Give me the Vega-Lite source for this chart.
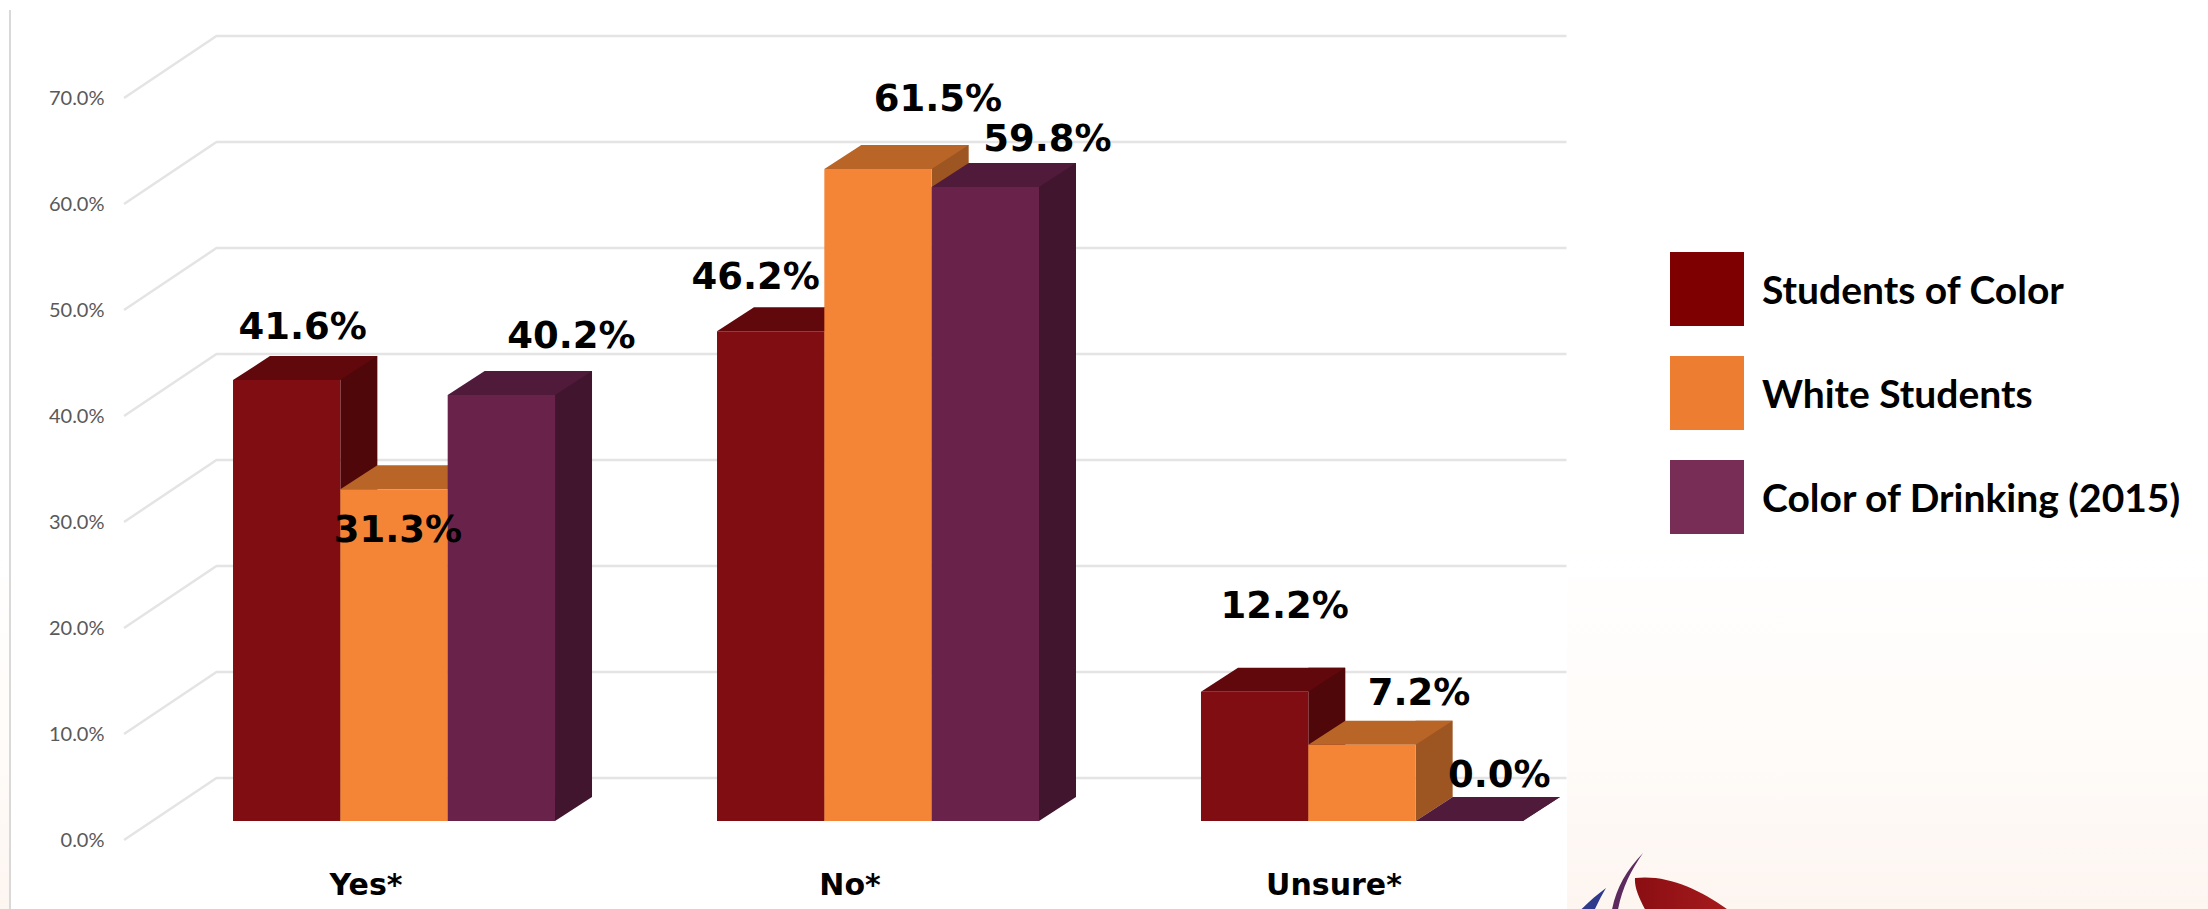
{
  "$schema": "https://vega.github.io/schema/vega-lite/v6.json",
  "width": 1349.5,
  "height": 742,
  "autosize": {"type": "none"},
  "padding": {"left": 124, "top": 98, "right": 734.5, "bottom": 69},
  "background": "#ffffff",
  "config": {"view": {"stroke": null}},
  "datasets": {
    "drink": [
      {"answer": "Yes*", "series": "Students of Color", "value": 0.416},
      {"answer": "Yes*", "series": "White Students", "value": 0.313},
      {"answer": "Yes*", "series": "Color of Drinking (2015)", "value": 0.402},
      {"answer": "No*", "series": "Students of Color", "value": 0.462},
      {"answer": "No*", "series": "White Students", "value": 0.615},
      {"answer": "No*", "series": "Color of Drinking (2015)", "value": 0.598},
      {"answer": "Unsure*", "series": "Students of Color", "value": 0.122},
      {"answer": "Unsure*", "series": "White Students", "value": 0.072},
      {"answer": "Unsure*", "series": "Color of Drinking (2015)", "value": 0.0}
    ],
    "ticks": [
      {"tick": 0}, {"tick": 0.1}, {"tick": 0.2}, {"tick": 0.3},
      {"tick": 0.4}, {"tick": 0.5}, {"tick": 0.6}, {"tick": 0.7}
    ]
  },
  "data": {"name": "drink"},
  "layer": [
    {
      "data": {"values": [{"part": "slide"}]},
      "encoding": {
        "x": {"datum": "Yes*", "type": "nominal", "scale": {"domain": ["Yes*", "No*", "Unsure*"], "range": [28, 1480], "paddingInner": 0.3347, "paddingOuter": 0.1674}, "axis": {"title": null, "zindex": 1, "domain": false, "ticks": false, "grid": false, "labelAngle": 0, "labelFont": "DejaVu Sans", "labelFontWeight": "bold", "labelFontSize": 30, "labelColor": "#000000", "labelOffset": -28, "labelPadding": 30}},
        "y": {"datum": 0, "type": "quantitative", "scale": {"domain": [0, 0.7], "nice": false}, "axis": {"title": null, "zindex": 1, "values": [0, 0.1, 0.2, 0.3, 0.4, 0.5, 0.6, 0.7], "format": ".1%", "domain": false, "ticks": false, "grid": false, "labelFont": "Lato", "labelFontSize": 20, "labelColor": "#595959", "labelPadding": 20}}
      },
      "layer": [
        {"mark": {"type": "point", "filled": true, "opacity": 1, "size": 4, "strokeWidth": 0, "shape": "M-394 -840H1814V69H-394Z", "fill": {"gradient": "linear", "x1": 0, "y1": 0, "x2": 0, "y2": 1, "stops": [{"offset": 0, "color": "#ffffff"}, {"offset": 0.6, "color": "#ffffff"}, {"offset": 0.84, "color": "#FFFBF8"}, {"offset": 1, "color": "#FDF5F0"}]}}},
        {"mark": {"type": "point", "filled": true, "opacity": 1, "size": 4, "strokeWidth": 0, "fill": "#ffffff", "shape": "M-384 -840H1173V69H-384Z"}},
        {"mark": {"type": "point", "filled": false, "opacity": 1, "size": 4, "stroke": "#D9D9D9", "strokeWidth": 2, "shape": "M-384 -830V69"}},
        {"mark": {"type": "point", "filled": true, "opacity": 1, "size": 4, "strokeWidth": 0, "shape": "M1241 38C1276 34 1311 52 1341 75L1254 75C1246 60 1240 48 1241 38Z", "fill": {"gradient": "linear", "x1": 0, "y1": 0, "x2": 1, "y2": 0, "stops": [{"offset": 0, "color": "#8A0E12"}, {"offset": 1, "color": "#A81C1E"}]}}},
        {"mark": {"type": "point", "filled": true, "opacity": 1, "size": 4, "strokeWidth": 0, "fill": "#5C2A5E", "shape": "M1249 13C1231 32 1221 50 1217 75L1223 75C1227 50 1236 32 1249 13Z"}},
        {"mark": {"type": "point", "filled": true, "opacity": 1, "size": 4, "strokeWidth": 0, "fill": "#2E3A8C", "shape": "M1212 48C1201 56 1191 65 1182 75L1198 75C1203 65 1207 56 1212 48Z"}}
      ]
    },
    {
      "data": {"name": "ticks"},
      "mark": {"type": "point", "filled": false, "opacity": 1, "size": 4, "stroke": "#E4E4E4", "strokeWidth": 2.5, "shape": "M-270 0L-177.5 -62H1172.5"},
      "encoding": {
        "x": {"datum": "Yes*", "type": "nominal"},
        "y": {"field": "tick", "type": "quantitative"}
      }
    },
    {
      "encoding": {
        "x": {"field": "answer", "type": "nominal", "sort": ["Yes*", "No*", "Unsure*"]},
        "xOffset": {"field": "series", "type": "nominal", "scale": {"domain": ["Students of Color", "White Students", "Color of Drinking (2015)"], "paddingInner": 0, "paddingOuter": 0}},
        "y": {"field": "value", "type": "quantitative"}
      },
      "layer": [
        {
          "transform": [{"filter": "datum.series === 'Students of Color'"}],
          "layer": [
            {"mark": {"type": "rule", "stroke": "#50070A", "strokeWidth": 37, "xOffset": -35.16, "yOffset": -43, "y2Offset": -43}, "encoding": {"xOffset": null, "y2": {"datum": 0}}},
            {"mark": {"type": "point", "filled": true, "opacity": 1, "size": 4, "strokeWidth": 0, "fill": "#50070A", "yOffset": -19, "shape": "M53.67 0L90.67 -24L53.67 -24Z"}, "encoding": {"y": {"datum": 0, "type": "quantitative"}}},
            {"mark": {"type": "point", "filled": true, "opacity": 1, "size": 4, "strokeWidth": 0, "fill": "#60080B", "yOffset": -19, "shape": "M-53.67 0L53.67 0L90.67 -24L-16.67 -24Z"}},
            {"mark": {"type": "bar", "fill": "#7F0D11", "yOffset": -19, "y2Offset": -19}}
          ]
        },
        {
          "transform": [{"filter": "datum.series === 'White Students'"}],
          "layer": [
            {"mark": {"type": "rule", "stroke": "#9D5522", "strokeWidth": 37, "xOffset": 72.17, "yOffset": -43, "y2Offset": -43}, "encoding": {"xOffset": null, "y2": {"datum": 0}}},
            {"mark": {"type": "point", "filled": true, "opacity": 1, "size": 4, "strokeWidth": 0, "fill": "#9D5522", "yOffset": -19, "shape": "M53.67 0L90.67 -24L53.67 -24Z"}, "encoding": {"y": {"datum": 0, "type": "quantitative"}}},
            {"mark": {"type": "point", "filled": true, "opacity": 1, "size": 4, "strokeWidth": 0, "fill": "#B96527", "yOffset": -19, "shape": "M-53.67 0L53.67 0L90.67 -24L-16.67 -24Z"}},
            {"mark": {"type": "bar", "fill": "#F58536", "yOffset": -19, "y2Offset": -19}}
          ]
        },
        {
          "transform": [{"filter": "datum.series === 'Color of Drinking (2015)'"}],
          "layer": [
            {"mark": {"type": "rule", "stroke": "#41152E", "strokeWidth": 37, "xOffset": 179.5, "yOffset": -43, "y2Offset": -43}, "encoding": {"xOffset": null, "y2": {"datum": 0}}},
            {"mark": {"type": "point", "filled": true, "opacity": 1, "size": 4, "strokeWidth": 0, "fill": "#41152E", "yOffset": -19, "shape": "M53.67 0L90.67 -24L53.67 -24Z"}, "encoding": {"y": {"datum": 0, "type": "quantitative"}}},
            {"mark": {"type": "point", "filled": true, "opacity": 1, "size": 4, "strokeWidth": 0, "fill": "#501B3A", "yOffset": -19, "shape": "M-53.67 0L53.67 0L90.67 -24L-16.67 -24Z"}},
            {"mark": {"type": "bar", "fill": "#69234A", "yOffset": -19, "y2Offset": -19}}
          ]
        },
        {
          "encoding": {"text": {"field": "value", "type": "quantitative", "format": ".1%"}},
          "layer": [
            {"transform": [{"filter": "datum.answer === 'Yes*' && datum.series === 'Students of Color'"}], "mark": {"type": "text", "font": "DejaVu Sans", "fontWeight": "bold", "fontSize": 37, "fill": "#000000", "baseline": "middle", "dx": 16, "dy": -71}},
            {"transform": [{"filter": "datum.answer === 'Yes*' && datum.series === 'White Students'"}], "mark": {"type": "text", "font": "DejaVu Sans", "fontWeight": "bold", "fontSize": 37, "fill": "#000000", "baseline": "middle", "dx": 4, "dy": 23}},
            {"transform": [{"filter": "datum.answer === 'Yes*' && datum.series === 'Color of Drinking (2015)'"}], "mark": {"type": "text", "font": "DejaVu Sans", "fontWeight": "bold", "fontSize": 37, "fill": "#000000", "baseline": "middle", "dx": 70, "dy": -77}},
            {"transform": [{"filter": "datum.answer === 'No*' && datum.series === 'Students of Color'"}], "mark": {"type": "text", "font": "DejaVu Sans", "fontWeight": "bold", "fontSize": 37, "fill": "#000000", "baseline": "middle", "dx": -15, "dy": -72}},
            {"transform": [{"filter": "datum.answer === 'No*' && datum.series === 'White Students'"}], "mark": {"type": "text", "font": "DejaVu Sans", "fontWeight": "bold", "fontSize": 37, "fill": "#000000", "baseline": "middle", "dx": 60, "dy": -88}},
            {"transform": [{"filter": "datum.answer === 'No*' && datum.series === 'Color of Drinking (2015)'"}], "mark": {"type": "text", "font": "DejaVu Sans", "fontWeight": "bold", "fontSize": 37, "fill": "#000000", "baseline": "middle", "dx": 62, "dy": -66}},
            {"transform": [{"filter": "datum.answer === 'Unsure*' && datum.series === 'Students of Color'"}], "mark": {"type": "text", "font": "DejaVu Sans", "fontWeight": "bold", "fontSize": 37, "fill": "#000000", "baseline": "middle", "dx": 30, "dy": -104}},
            {"transform": [{"filter": "datum.answer === 'Unsure*' && datum.series === 'White Students'"}], "mark": {"type": "text", "font": "DejaVu Sans", "fontWeight": "bold", "fontSize": 37, "fill": "#000000", "baseline": "middle", "dx": 57, "dy": -70}},
            {"transform": [{"filter": "datum.answer === 'Unsure*' && datum.series === 'Color of Drinking (2015)'"}], "mark": {"type": "text", "font": "DejaVu Sans", "fontWeight": "bold", "fontSize": 37, "fill": "#000000", "baseline": "middle", "dx": 30, "dy": -64}}
          ]
        },
        {
          "mark": {"type": "square", "opacity": 0, "size": 1},
          "encoding": {
            "color": {
              "field": "series",
              "type": "nominal",
              "scale": {"domain": ["Students of Color", "White Students", "Color of Drinking (2015)"], "range": ["#7F0000", "#ED7D31", "#772D55"]},
              "legend": {"title": null, "orient": "none", "legendX": 1546, "legendY": 154, "symbolType": "square", "symbolSize": 5476, "symbolOpacity": 1, "symbolStrokeWidth": 0, "labelFont": "Lato", "labelFontWeight": "bold", "labelFontSize": 39, "labelColor": "#000000", "labelOffset": 18, "rowPadding": 30, "labelLimit": 600, "encode": {"labels": {"update": {"dy": {"value": 3}}}}}
            }
          }
        }
      ]
    }
  ]
}
